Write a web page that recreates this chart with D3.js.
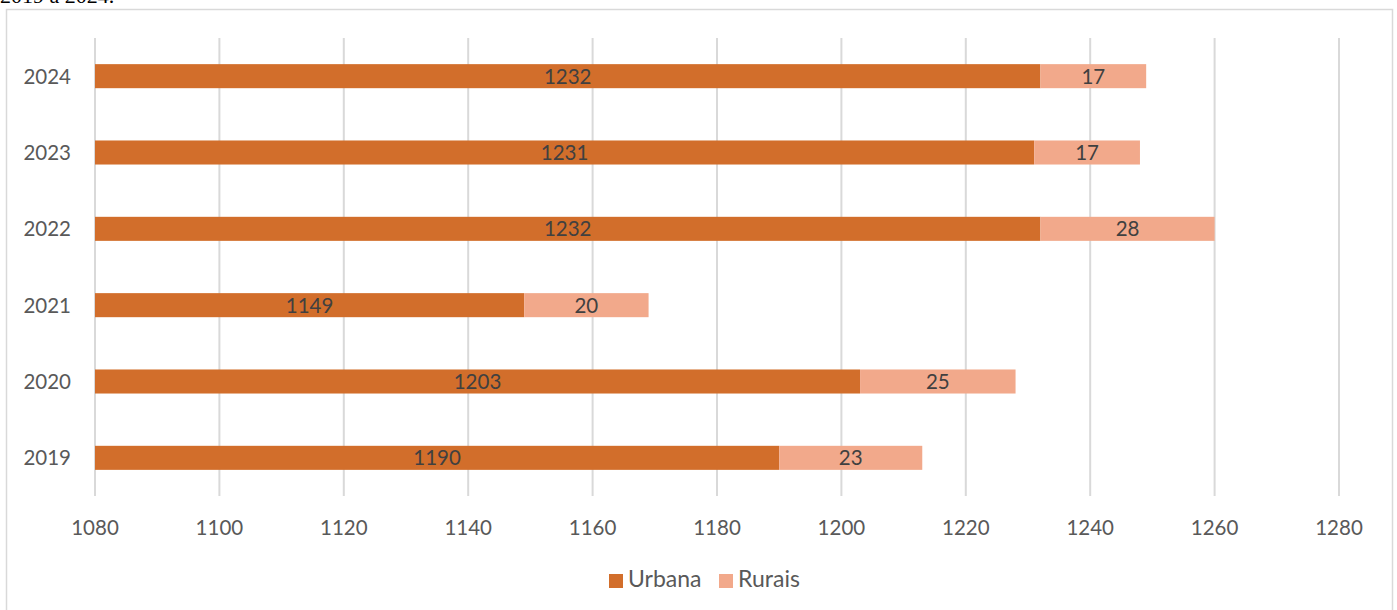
<!DOCTYPE html>
<meta charset="utf-8">
<style>
body{margin:0;background:#fff}
svg text{font-family:Lato,"Open Sans",sans-serif;fill:#595959;font-size:20.5px}
.grid line{stroke:#d9d9d9;stroke-width:2}
</style>
<script src="https://d3js.org/d3.v7.min.js"></script>
<svg id="chart" width="1397" height="610"></svg>
<script>
var years=['2024','2023','2022','2021','2020','2019'];
var urbana=[1232,1231,1232,1149,1203,1190];
var rurais=[17,17,28,20,25,23];
var xTicks=[1080,1100,1120,1140,1160,1180,1200,1220,1240,1260,1280];
var seriesNames=['Urbana','Rurais'];
var colors=['#d26e2b','#f2a98b'];

var svg=d3.select('#chart');
// caption cut by the page edge
svg.append('text').attr('x',0).attr('y',3)
   .style('font-family','"Liberation Serif",serif').style('font-size','22px').style('fill','#000')
   .text('2019 a 2024.');
svg.append('rect').attr('x',6.5).attr('y',9.5).attr('width',1386).attr('height',620)
   .attr('fill','none').attr('stroke','#d9d9d9').attr('stroke-width',1.5);

var x=d3.scaleLinear().domain([1080,1280]).range([95,1339]);
var y=d3.scaleBand().domain(years).range([38,496]).paddingInner(0.685).paddingOuter(0.3425);

var grid=svg.append('g').attr('class','grid');
grid.selectAll('line').data(xTicks).enter().append('line')
    .attr('x1',d=>x(d)).attr('x2',d=>x(d)).attr('y1',38).attr('y2',496);

svg.append('g').selectAll('text').data(xTicks).enter().append('text')
   .attr('x',d=>x(d)).attr('y',535).attr('text-anchor','middle').text(d=>d);
svg.append('g').selectAll('text').data(years).enter().append('text')
   .attr('x',71).attr('y',d=>y(d)+y.bandwidth()/2+7.5).attr('text-anchor','end').text(d=>d);

var rows=years.map((yr,i)=>({yr:yr,u:urbana[i],r:rurais[i]}));
var g=svg.append('g');
g.selectAll('.u').data(rows).enter().append('rect').attr('class','u')
 .attr('x',x(1080)).attr('y',d=>y(d.yr)).attr('width',d=>x(d.u)-x(1080))
 .attr('height',y.bandwidth()).attr('fill',colors[0]);
g.selectAll('.r').data(rows).enter().append('rect').attr('class','r')
 .attr('x',d=>x(d.u)).attr('y',d=>y(d.yr)).attr('width',d=>x(d.u+d.r)-x(d.u))
 .attr('height',y.bandwidth()).attr('fill',colors[1]);
g.selectAll('.lu').data(rows).enter().append('text')
 .attr('x',d=>(x(1080)+x(d.u))/2).attr('y',d=>y(d.yr)+y.bandwidth()/2+7.5)
 .attr('text-anchor','middle').style('fill','#404040').text(d=>d.u);
g.selectAll('.lr').data(rows).enter().append('text')
 .attr('x',d=>(x(d.u)+x(d.u+d.r))/2).attr('y',d=>y(d.yr)+y.bandwidth()/2+7.5)
 .attr('text-anchor','middle').style('fill','#404040').text(d=>d.r);

var legX=[609,719];
var leg=svg.append('g');
seriesNames.forEach((n,i)=>{
  leg.append('rect').attr('x',legX[i]).attr('y',574).attr('width',14).attr('height',14).attr('fill',colors[i]);
  leg.append('text').attr('x',legX[i]+19).attr('y',587).style('font-size','23px').text(n);
});
</script>
